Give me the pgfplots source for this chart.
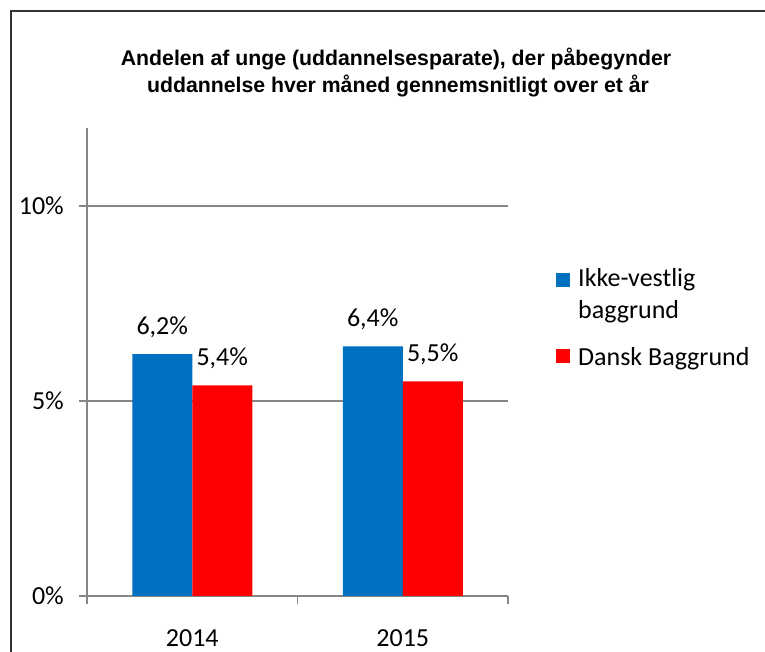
\documentclass[border=0pt]{standalone}
\usepackage{pgfplots}
\pgfplotsset{compat=1.18}
\usepackage{fontspec}
\setmainfont{Carlito}
\newfontfamily\titlefont{Liberation Sans}
\definecolor{barblue}{HTML}{0070C0}
\definecolor{barred}{HTML}{FF0000}
\definecolor{axgray}{HTML}{868686}
\begin{document}
\begin{tikzpicture}[x=1pt,y=1pt]
\useasboundingbox (0,0) rectangle (765,652);
\fill[white] (0,0) rectangle (765,652);
\draw[line width=1.5pt, black!80] (11,-5) -- (11,641) -- (765,641);
\node[anchor=base, inner sep=0pt, font=\titlefont\bfseries\fontsize{21.25}{24}\selectfont] at (396,586) {Andelen af unge (uddannelsesparate), der påbegynder};
\node[anchor=base, inner sep=0pt, font=\titlefont\bfseries\fontsize{21.25}{24}\selectfont] at (398,559) {uddannelse hver måned gennemsnitligt over et år};
\begin{axis}[
  at={(87pt,56pt)}, anchor=south west,
  scale only axis, width=421pt, height=468pt,
  ybar=0pt, bar width=60pt,
  xmin=-0.5, xmax=1.5, ymin=0, ymax=12,
  xtick={-0.5,0.5,1.5}, x tick label as interval,
  xticklabels={2014,2015},
  ytick={0,5,10}, yticklabels={0\%,5\%,10\%},
  axis x line*=bottom, axis y line*=left,
  x axis line style={-}, y axis line style={-},
  axis line style={axgray, line width=1.3pt},
  xtick pos=bottom, ytick pos=left,
  tick align=outside, major tick length=8pt,
  tick style={axgray, line width=1.3pt},
  ymajorgrids, major grid style={axgray, line width=1.3pt},
  ticklabel style={font=\fontsize{26}{31}\selectfont, text=black},
  yticklabel style={anchor=east, inner sep=0pt, xshift=-15pt},
  xticklabel style={anchor=base, inner sep=0pt, yshift=-42pt},
  nodes near coords, point meta=explicit symbolic,
  every node near coord/.append style={anchor=base, yshift=20pt, inner sep=0pt, font=\fontsize{26}{31}\selectfont, text=black},
  legend cell align=left,
  legend style={at={(axis description cs:1.114,0.701)}, anchor=north west, draw=none, fill=none, inner sep=0pt, row sep=12.3pt, column sep=8pt, font=\fontsize{26}{32}\selectfont, nodes={inner sep=0pt}},
]
\addplot[fill=barblue, draw=none, legend image code/.code={\fill[barblue] (0pt,-8.8pt) rectangle (14pt,5.2pt);}] coordinates {(0,6.2) [6,2\%] (1,6.4) [6,4\%]};
\addlegendentry{Ikke-vestlig}
\addlegendimage{empty legend}
\addlegendentry{baggrund}
\addplot[fill=barred, draw=none, legend image code/.code={\fill[barred] (0pt,-14pt) rectangle (14pt,0pt);}] coordinates {(0,5.4) [5,4\%] (1,5.5) [5,5\%]};
\addlegendentry{\rule{0pt}{33.2pt}Dansk Baggrund}
\end{axis}
\end{tikzpicture}
\end{document}
